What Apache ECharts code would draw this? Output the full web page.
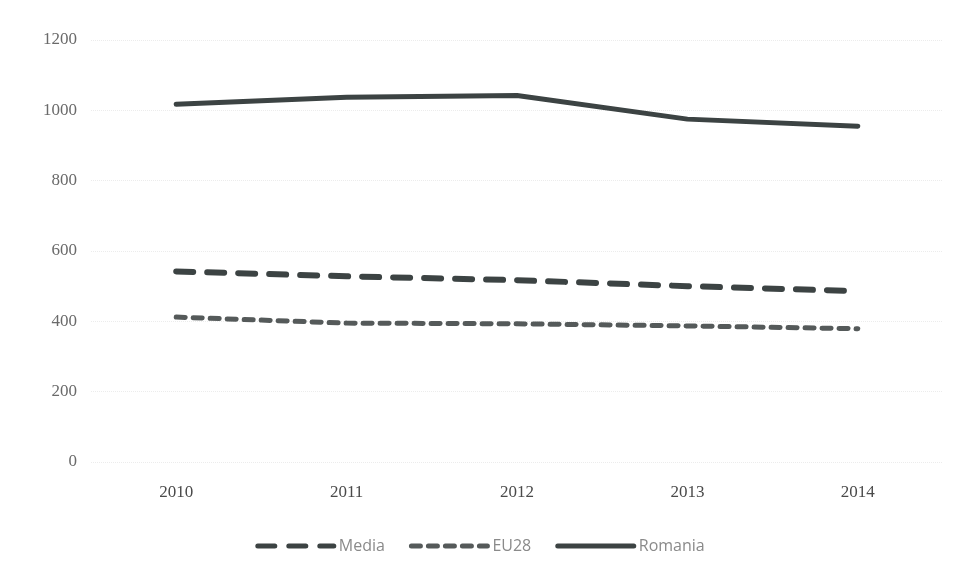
<!DOCTYPE html>
<html><head><meta charset="utf-8">
<script src="https://cdn.jsdelivr.net/npm/echarts@6/dist/echarts.min.js"></script>
<style>html,body{margin:0;padding:0;background:#fff}#c{width:960px;height:581px}</style>
</head><body><div id="c"></div>
<script>
const years = ['2010','2011','2012','2013','2014'];
const media = [542, 528, 517, 500, 486];
const eu28 = [412, 395, 393, 387, 379];
const romania = [1017, 1037, 1042, 975, 955];
const yTicks = [0, 200, 400, 600, 800, 1000, 1200];

const chart = echarts.init(document.getElementById('c'));
const lineColor = '#3c4343';
chart.setOption({
  animation: false,
  backgroundColor: '#fff',
  grid: {left: 91, right: 17, top: 40, bottom: 119},
  legend: {
    bottom: 22, left: 'center', itemWidth: 76, itemHeight: 10, itemGap: 24,
    itemStyle: {opacity: 0},
    lineStyle: {width: 5, cap: 'round'},
    textStyle: {color: '#8a8a8a', fontSize: 16, fontFamily: 'Open Sans'},
    data: ['Media', 'EU28', 'Romania']
  },
  xAxis: {
    type: 'category', data: years, boundaryGap: true,
    axisLine: {show: false}, axisTick: {show: false},
    axisLabel: {color: '#4a4a4a', fontSize: 17, margin: 22, fontFamily: 'Liberation Serif'}
  },
  yAxis: {
    type: 'value', min: yTicks[0], max: yTicks[yTicks.length-1], interval: 200,
    axisLine: {show: false}, axisTick: {show: false},
    axisLabel: {color: '#6a6a6a', fontSize: 17, margin: 14, fontFamily: 'Liberation Serif',
      formatter: v => String(v)},
    splitLine: {lineStyle: {color: '#ececec', width: 1, type: 'dotted'}}
  },
  series: [
    {name: 'Media', type: 'line', data: media, symbol: 'none', color: lineColor,
     lineStyle: {color: lineColor, width: 6, type: [17, 14], cap: 'round'}},
    {name: 'EU28', type: 'line', data: eu28, symbol: 'none', color: '#555a5a',
     lineStyle: {color: '#555a5a', width: 5, type: [9, 8], cap: 'round'}},
    {name: 'Romania', type: 'line', data: romania, symbol: 'none', color: lineColor,
     lineStyle: {color: lineColor, width: 5, cap: 'round'}}
  ]
});
</script></body></html>
